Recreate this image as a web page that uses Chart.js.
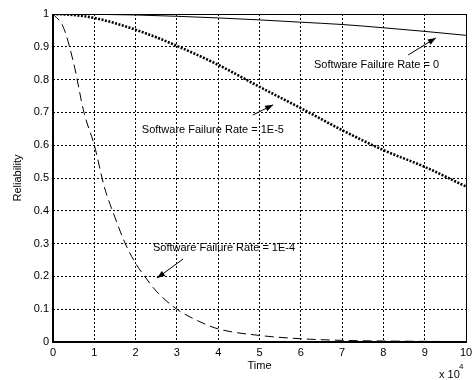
<!DOCTYPE html>
<html>
<head>
<meta charset="utf-8">
<script src="https://cdn.jsdelivr.net/npm/chart.js@4.4.1/dist/chart.umd.min.js"></script>
<style>
  body { margin: 0; background: #fff; }
  canvas { display: block; }
</style>
</head>
<body>
<canvas id="relChart" width="472" height="380"></canvas>
<script>
// time in units of 10^4
const timeRate0 = [0, 1, 2, 3, 4, 5, 6, 7, 8, 9, 10];
const relRate0 = [1, 0.999, 0.997, 0.993, 0.988, 0.982, 0.975, 0.968, 0.958, 0.947, 0.935];

const timeRate1e5 = [0, 0.5, 1, 1.5, 2, 2.5, 3, 4, 5, 6, 7, 8, 9, 10];
const relRate1e5 = [1, 0.997, 0.988, 0.972, 0.952, 0.929, 0.903, 0.845, 0.778, 0.713, 0.646, 0.585, 0.534, 0.474];

const timeRate1e4 = [0, 0.25, 0.5, 0.75, 1, 1.25, 1.5, 1.75, 2, 2.25, 2.5, 3, 3.5, 4, 5, 6, 7, 8, 9, 10];
const relRate1e4 = [1, 0.96, 0.85, 0.7, 0.6, 0.47, 0.38, 0.3, 0.24, 0.195, 0.155, 0.1, 0.065, 0.04, 0.02, 0.01, 0.005, 0.003, 0.002, 0.001];

const xTicks = [0, 1, 2, 3, 4, 5, 6, 7, 8, 9, 10];

const seriesNames = ["Software Failure Rate = 0", "Software Failure Rate = 1E-5", "Software Failure Rate = 1E-4"];

const FONT = "'Liberation Sans', Arial, sans-serif";

function toPoints(xs, ys) {
    return xs.map((x, i) => ({ x: x, y: ys[i] }));
}

/* labels with arrows, placed in data coordinates */
const notes = [
    { text: seriesNames[0], at: [6.32, 0.845], from: [8.6, 0.875], to: [9.27, 0.927] },
    { text: seriesNames[1], at: [2.15, 0.646], from: [4.84, 0.692], to: [5.33, 0.723] },
    { text: seriesNames[2], at: [2.42, 0.287], from: [3.15, 0.253], to: [2.52, 0.195] }
];

const decorPlugin = {
    id: "decor",
    afterDraw(chart) {
        const c = chart.ctx;
        const a = chart.chartArea;
        const xs = chart.scales.x;
        const ys = chart.scales.y;
        c.save();

        // axes box
        c.strokeStyle = "#000";
        c.lineWidth = 1;
        c.strokeRect(a.left + 0.5, a.top + 0.5, a.right - a.left, a.bottom - a.top);
        c.lineWidth = 2;
        c.beginPath();
        c.moveTo(a.left, a.top);
        c.lineTo(a.left, a.bottom);
        c.lineTo(a.right, a.bottom);
        c.stroke();

        // annotations
        c.fillStyle = "#000";
        c.font = "11px " + FONT;
        c.textBaseline = "middle";
        c.textAlign = "left";
        notes.forEach(n => {
            c.fillText(n.text, xs.getPixelForValue(n.at[0]), ys.getPixelForValue(n.at[1]));
            const x1 = xs.getPixelForValue(n.from[0]), y1 = ys.getPixelForValue(n.from[1]);
            const x2 = xs.getPixelForValue(n.to[0]), y2 = ys.getPixelForValue(n.to[1]);
            const ang = Math.atan2(y2 - y1, x2 - x1);
            c.lineWidth = 1;
            c.beginPath();
            c.moveTo(x1, y1);
            c.lineTo(x2, y2);
            c.stroke();
            c.beginPath();
            c.moveTo(x2, y2);
            c.lineTo(x2 - 8 * Math.cos(ang) + 3 * Math.sin(ang), y2 - 8 * Math.sin(ang) - 3 * Math.cos(ang));
            c.lineTo(x2 - 8 * Math.cos(ang) - 3 * Math.sin(ang), y2 - 8 * Math.sin(ang) + 3 * Math.cos(ang));
            c.closePath();
            c.fill();
        });

        // axis titles
        c.textAlign = "center";
        c.fillText("Time", (a.left + a.right) / 2, 366);
        c.save();
        c.translate(18, (a.top + a.bottom) / 2);
        c.rotate(-Math.PI / 2);
        c.fillText("Reliability", 0, 0);
        c.restore();

        c.textAlign = "left";
        c.fillText("x 10", 439, 375);
        c.font = "8px " + FONT;
        c.fillText("4", 459, 367);
        c.restore();
    }
};

new Chart(document.getElementById("relChart").getContext("2d"), {
    type: "line",
    data: {
        datasets: [{
            label: seriesNames[0],
            data: toPoints(timeRate0, relRate0),
            borderColor: "#000",
            borderWidth: 1,
            pointRadius: 0,
            cubicInterpolationMode: "monotone"
        }, {
            label: seriesNames[1],
            data: toPoints(timeRate1e5, relRate1e5),
            borderColor: "#000",
            borderWidth: 2.6,
            borderDash: [2, 1.5],
            pointRadius: 0,
            cubicInterpolationMode: "monotone"
        }, {
            label: seriesNames[2],
            data: toPoints(timeRate1e4, relRate1e4),
            borderColor: "#000",
            borderWidth: 1,
            borderDash: [9, 5],
            pointRadius: 0,
            cubicInterpolationMode: "monotone"
        }]
    },
    options: {
        responsive: false,
        animation: false,
        layout: { padding: { top: 14, right: 6, left: 0, bottom: 0 } },
        plugins: {
            legend: { display: false },
            tooltip: { enabled: false }
        },
        scales: {
            x: {
                type: "linear",
                min: 0,
                max: 10,
                afterFit: s => { s.height = 38; s.paddingRight = 0; },
                afterBuildTicks: s => { s.ticks = xTicks.map(v => ({ value: v })); },
                ticks: {
                    color: "#000",
                    padding: 4,
                    maxRotation: 0,
                    font: { family: FONT, size: 11 }
                },
                grid: { color: "#000", lineWidth: 1, drawTicks: false },
                border: { display: false, dash: [2, 2] }
            },
            y: {
                min: 0,
                max: 1,
                afterFit: s => { s.width = 53; },
                ticks: {
                    stepSize: 0.1,
                    color: "#000",
                    padding: 4,
                    font: { family: FONT, size: 11 },
                    callback: v => String(+v.toFixed(1))
                },
                grid: { color: "#000", lineWidth: 1, drawTicks: false },
                border: { display: false, dash: [2, 2] }
            }
        }
    },
    plugins: [decorPlugin]
});
</script>
</body>
</html>
